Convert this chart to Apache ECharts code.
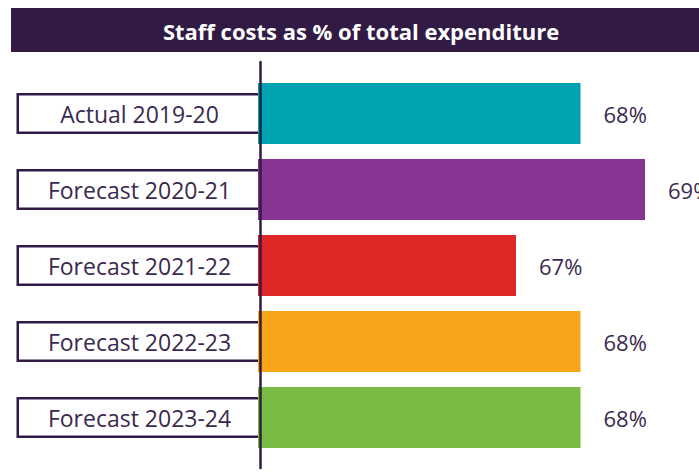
<!DOCTYPE html>
<html>
<head>
<meta charset="utf-8">
<style>html,body{margin:0;padding:0;background:#fff;}#c{width:699px;height:475px;}</style>
<script src="https://cdn.jsdelivr.net/npm/echarts@6/dist/echarts.min.js"></script>
</head>
<body>
<div id="c"></div>
<script>
const titleText = 'Staff costs as % of total expenditure';
const categories = ['Actual 2019-20', 'Forecast 2020-21', 'Forecast 2021-22', 'Forecast 2022-23', 'Forecast 2023-24'];
const values = [68, 69, 67, 68, 68];
const barColors = ['#00A3B1', '#873593', '#E02727', '#F9A51C', '#78BC43'];

const dark = '#2F1B45';
const textColor = '#3B2A50';

const chart = echarts.init(document.getElementById('c'), null, {renderer: 'svg'});
chart.setOption({
  animation: false,
  backgroundColor: '#fff',
  graphic: [
    {type: 'rect', left: 11, top: 8, shape: {width: 688, height: 44}, style: {fill: '#311B45'}, z: 0},
    {type: 'text', x: 361, y: 31, style: {text: titleText, fill: '#fff', font: 'bold 22px "Open Sans"', textAlign: 'center', textVerticalAlign: 'middle'}, z: 1}
  ],
  grid: [
    {left: 258, right: 54, top: 75.5, bottom: 19.5},
    {left: 260, right: 54, top: 62, bottom: 7}
  ],
  xAxis: [
    {type: 'value', gridIndex: 0, min: 63, max: 69, show: false},
    {type: 'value', gridIndex: 1, min: 0, max: 1, show: false}
  ],
  yAxis: [
    {
      type: 'category', gridIndex: 0, data: categories, inverse: true,
      axisLine: {show: false}, axisTick: {show: false}, splitLine: {show: false},
      axisLabel: {
        margin: -2,
        formatter: '{b|{value}}',
        rich: {
          b: {
            fontFamily: 'Open Sans', fontSize: 23, color: textColor,
            backgroundColor: '#fff', borderColor: dark, borderWidth: 2.5,
            width: 241, height: 36, lineHeight: 36, align: 'center'
          }
        }
      }
    },
    {
      type: 'value', gridIndex: 1, min: 0, max: 1, z: 10,
      axisLine: {show: true, onZero: false, lineStyle: {color: dark, width: 2.5}},
      axisTick: {show: false}, axisLabel: {show: false}, splitLine: {show: false}
    }
  ],
  series: [{
    type: 'bar', xAxisIndex: 0, yAxisIndex: 0,
    data: values.map((v, i) => ({value: v, itemStyle: {color: barColors[i]}})),
    barWidth: 61,
    label: {
      show: true, position: 'right', distance: 23,
      formatter: '{c}%', fontFamily: 'Open Sans', fontSize: 22, color: textColor
    }
  }]
});
</script>
</body>
</html>
